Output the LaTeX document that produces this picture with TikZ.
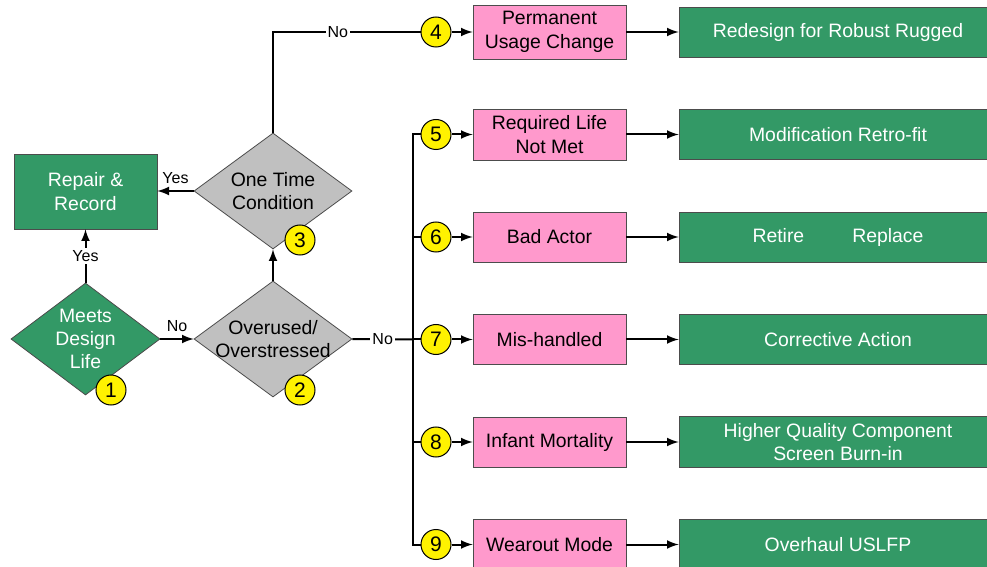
\documentclass[tikz,border=0pt]{standalone}
\usepackage{fontspec}
\setmainfont{Liberation Sans}
\usepackage{xcolor}
\usepackage{tikz}
\usetikzlibrary{shapes.geometric}

\definecolor{boxGreen}{RGB}{51,153,102}
\definecolor{boxPink}{RGB}{255,153,204}
\definecolor{boxGray}{RGB}{192,192,192}

\begin{document}
\begin{tikzpicture}[x=0.5pt,y=-0.5pt,
                    every node/.style={font=\fontsize{9.7}{11.7}\selectfont},
                    flow/.style={-latex, line width=1pt},
                    decision/.style={
                         shape=diamond, aspect=1.36, inner sep=-4pt,
                         draw=black!70, line width=0.4pt, align=center,
                         minimum width=79pt, minimum height=58pt},
                    greenbox/.style={
                         draw=black!70, line width=0.4pt, fill=boxGreen,
                         text=white, align=center, minimum height=25pt},
                    causebox/.style={
                         draw=black!70, line width=0.4pt, fill=boxPink,
                         align=center, minimum width=76.5pt, minimum height=25pt},
                    mynum/.style={
                         circle, draw=black, line width=0.5pt, fill=yellow,
                         minimum size=15pt, inner sep=0pt,
                         font=\fontsize{10.5}{12}\selectfont},
                    answer/.style={font=\fontsize{8}{9.6}\selectfont, inner sep=1pt}
                    ]
  \useasboundingbox (0,0) rectangle (987,567);

  % left part of the chart
  \node[greenbox, minimum width=71.5pt, minimum height=37.5pt] (repairBox) at (85.5,191.5) {Repair \&\\Record};
  \node[decision, fill=boxGreen, text=white, minimum width=74.5pt, minimum height=56pt] (meetsLife) at (85.5,339) {Meets\\Design\\Life};
  \node[decision, fill=boxGray] (overUsed) at (273,339) {Overused/\\Overstressed};
  \node[decision, fill=boxGray] (oneTime) at (273,191) {One Time\\Condition};

  \draw[flow] (meetsLife.north) -- node[answer, fill=white] {Yes} (repairBox.south);
  \draw[flow] (meetsLife.east) -- node[answer, above=2pt] {No} (overUsed.west);
  \draw[flow] (oneTime.west) -- node[answer, above=2pt] {Yes} (repairBox.east |- oneTime.west);
  \draw[flow] (overUsed.north) -- (oneTime.south);

  \node[mynum] (numOne) at (111,390) {1};
  \node[mynum] (numTwo) at (300,390) {2};
  \node[mynum] (numThree) at (300,240) {3};

  % causes and fixes
  \foreach \n/\cause/\fix in {4/{Permanent\\Usage Change}/{Redesign for Robust Rugged},
                              5/{Required Life\\Not Met}/{Modification Retro-fit},
                              6/{Bad Actor}/{Retire\hspace{24pt}Replace},
                              7/{Mis-handled}/{Corrective Action},
                              8/{Infant Mortality}/{Higher Quality Component\\Screen Burn-in},
                              9/{Wearout Mode}/{Overhaul USLFP}}
  {
    \pgfmathsetmacro{\rowY}{32+(\n-4)*102.5}
    \node[mynum] (num\n) at (436,\rowY) {\n};
    \node[causebox] (cause\n) at (549.5,\rowY) {\cause};
    \node[greenbox, minimum width=159pt] (fix\n) at (838,\rowY) {\fix};
    \draw[flow] (num\n) -- (cause\n);
    \draw[flow] (cause\n) -- (fix\n);
  }

  \draw[line width=1pt] (oneTime.north) |- node[answer, fill=white, pos=0.72] {No} (num4.west);

  \coordinate (busPoint) at (413,339.5);
  \draw[line width=1pt] (overUsed.east) -- node[answer, fill=white] {No} (busPoint);
  \draw[line width=1pt] (num5.west) -| (busPoint) |- (num9.west);
  \foreach \n in {6,7,8}
    \draw[line width=1pt] (busPoint |- num\n) -- (num\n.west);
\end{tikzpicture}
\end{document}
